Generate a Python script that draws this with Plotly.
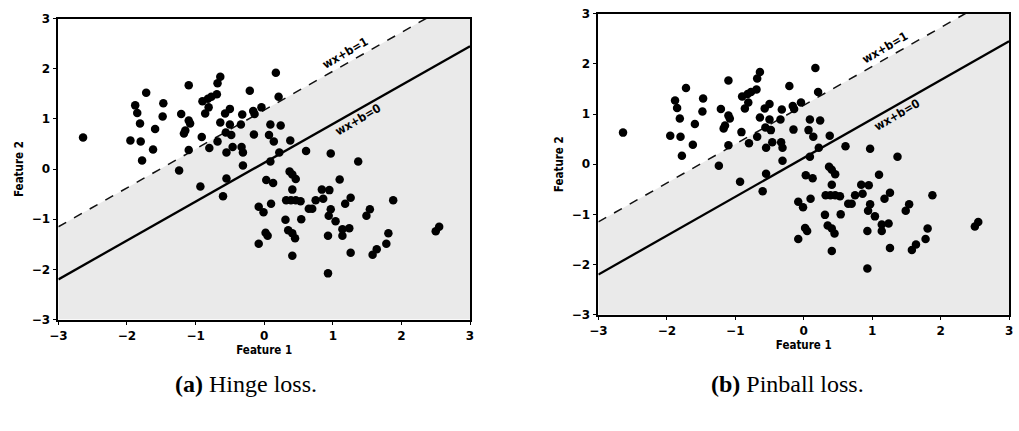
import numpy as np
import plotly.graph_objects as go

# ---- data ----
feat1 = [-2.64, -1.72, -1.10, -1.88, -1.85, -1.47, -1.48, -1.21, -0.90, -0.86,
         -1.81, -1.59, -1.10, -1.08, -1.17, -1.15, -1.95, -1.80, -1.62, -1.78,
         -1.10, -0.91, -1.24, 0.17, -0.64, -0.68, -0.69, -0.77, -0.82, -0.81,
         -0.21, -0.50, -0.57, -0.32, -0.16, -0.14, -0.04, 0.21, -0.64, -0.50,
         -0.34, -0.56, -0.48, -0.15, 0.09, 0.24, 0.07, 0.14, -0.68, -0.80,
         0.38, -0.46, -0.33, -0.31, -0.55, 0.22, 0.09, -0.31, -0.55, 0.03,
         -0.93, -0.60,
         0.61, 0.97, 1.37, 0.37, 0.41, 0.46, 1.10, 0.13, 0.41, 0.84,
         0.95, 0.32, 0.39, 0.46, 0.53, 0.75, 0.86, 0.65, 0.70, 0.97,
         0.10, -0.08, -0.01, 0.31, 0.54, 0.94, 1.04, 0.35, 0.41, 0.45,
         0.02, 0.05, -0.08, 0.93, 0.41, 0.93, 1.88, 1.26, 1.18, 1.54,
         1.49, 1.14, 1.14, 1.24, 1.81, 1.78, 1.64, 1.58, 1.26, 2.55, 2.50]
feat2 = [0.63, 1.52, 1.67, 1.27, 1.12, 1.31, 1.05, 1.10, 1.35, 1.11,
         0.91, 0.80, 0.97, 0.91, 0.71, 0.77, 0.57, 0.55, 0.39, 0.17,
         0.38, 0.64, -0.03, 1.92, 1.84, 1.71, 1.49, 1.44, 1.40, 1.23,
         1.56, 1.20, 1.11, 1.09, 1.16, 1.10, 1.23, 1.44, 0.93, 0.89,
         0.89, 0.73, 0.68, 0.69, 0.89, 0.87, 0.68, 0.55, 0.55, 0.42,
         0.57, 0.44, 0.44, 0.33, 0.33, 0.33, 0.15, 0.07, -0.19, -0.22,
         -0.35, -0.54,
         0.36, 0.31, 0.15, -0.05, -0.11, -0.20, -0.21, -0.28, -0.41, -0.41,
         -0.42, -0.62, -0.62, -0.62, -0.64, -0.62, -0.59, -0.79, -0.79, -0.80,
         -0.69, -0.75, -0.86, -1.01, -1.00, -0.93, -1.04, -1.22, -1.28, -1.38,
         -1.27, -1.33, -1.49, -1.33, -1.73, -2.08, -0.62, -0.57, -0.69, -0.80,
         -0.93, -1.20, -1.33, -1.18, -1.28, -1.49, -1.60, -1.71, -1.67, -1.15, -1.24]

slope = 0.775          # hyperplane slope in feature space
intercepts = [0.125, 1.175]   # wx+b=0, wx+b=1
line_labels = ["wx+b=0", "wx+b=1"]
label_pos_x = [1.36, 1.18]
label_pos_y = [0.98, 2.32]
tick_vals = [-3, -2, -1, 0, 1, 2, 3]
captions = ["<b>(a)</b> Hinge loss.", "<b>(b)</b> Pinball loss."]

# ---- figure ----
fig = go.Figure()
xs = np.linspace(-3, 3, 61)
panels = [("x", "y"), ("x2", "y2")]
for xa, ya in panels:
    # shaded region below margin line wx+b=1
    fig.add_trace(go.Scatter(x=xs, y=np.full_like(xs, -3.0), mode="lines",
                             line=dict(width=0), xaxis=xa, yaxis=ya,
                             showlegend=False, hoverinfo="skip"))
    fig.add_trace(go.Scatter(x=xs, y=np.minimum(slope * xs + intercepts[1], 3.0),
                             mode="lines", line=dict(width=0), fill="tonexty",
                             fillcolor="rgba(190,190,190,0.32)", xaxis=xa, yaxis=ya,
                             showlegend=False, hoverinfo="skip"))
    # lines
    fig.add_trace(go.Scatter(x=xs, y=slope * xs + intercepts[1], mode="lines",
                             line=dict(color="#111", width=1.5, dash="dash"),
                             xaxis=xa, yaxis=ya, showlegend=False))
    fig.add_trace(go.Scatter(x=xs, y=slope * xs + intercepts[0], mode="lines",
                             line=dict(color="#000", width=2.3),
                             xaxis=xa, yaxis=ya, showlegend=False))
    # points
    fig.add_trace(go.Scatter(x=feat1, y=feat2, mode="markers",
                             marker=dict(color="#000", size=8.5),
                             xaxis=xa, yaxis=ya, showlegend=False))
    for lab, lx, ly in zip(line_labels, label_pos_x, label_pos_y):
        fig.add_annotation(x=lx, y=ly, xref=xa, yref=ya, text=lab, showarrow=False,
                           textangle=-30,
                           font=dict(family="DejaVu Sans Condensed, DejaVu Sans", size=12,
                                     color="#000", weight="bold"))

W, H = 1019, 431
axis_common = dict(range=[-3, 3], tickvals=tick_vals, showgrid=False, zeroline=False,
                   showline=True, mirror=True, linecolor="#000", linewidth=1.5,
                   ticks="outside", ticklen=4, tickcolor="#000",
                   tickfont=dict(family="DejaVu Sans", size=12, color="#000", weight="bold"))
title_font = dict(family="DejaVu Sans Condensed, DejaVu Sans", size=11.5, color="#000", weight="bold")

fig.update_layout(
    width=W, height=H, margin=dict(l=0, r=0, t=0, b=0),
    paper_bgcolor="white", plot_bgcolor="white",
    xaxis=dict(domain=[50 / W, 467 / W], anchor="y",
               title=dict(text="Feature 1", font=title_font, standoff=4), **axis_common),
    yaxis=dict(domain=[1 - 323 / H, 1 - 12 / H], anchor="x",
               title=dict(text="Feature 2", font=title_font, standoff=6), **axis_common),
    xaxis2=dict(domain=[597 / W, 1013 / W], anchor="y2",
                title=dict(text="Feature 1", font=title_font, standoff=4), **axis_common),
    yaxis2=dict(domain=[1 - 318 / H, 1 - 7 / H], anchor="x2",
                title=dict(text="Feature 2", font=title_font, standoff=6), **axis_common),
)

for cap, cx in zip(captions, [240 / W, 789 / W]):
    fig.add_annotation(x=cx, y=1 - 390 / H, xref="paper", yref="paper", text=cap,
                       showarrow=False, xanchor="center", yanchor="middle",
                       font=dict(family="Liberation Serif", size=24, color="#000"))

fig.write_html("out.html")
